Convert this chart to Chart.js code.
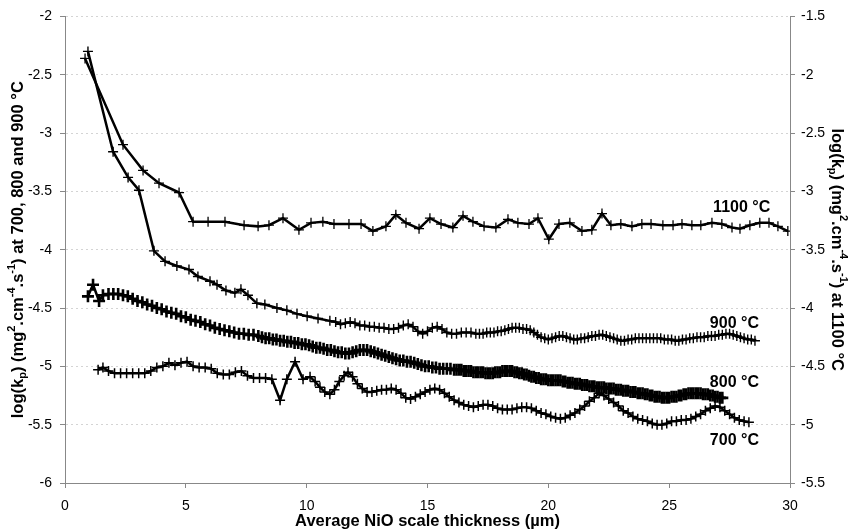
<!DOCTYPE html>
<html>
<head>
<meta charset="utf-8">
<script src="https://cdn.jsdelivr.net/npm/chart.js@4"></script>
<style>
  html, body { margin: 0; padding: 0; background: #fff; }
  canvas { display: block; }
</style>
</head>
<body>
<canvas id="kpChart" width="849" height="532"></canvas>
<script>
// log(kp) values, [thickness µm, log(kp)]
// 1100 °C is plotted on the right axis, the others on the left one
const pts1100 = [
  [0.83, -1.86], [2.40, -2.60], [3.23, -2.82], [3.89, -2.93], [4.72, -3.01], [5.30, -3.26],
  [5.92, -3.26], [6.62, -3.26], [7.41, -3.29], [7.99, -3.30], [8.44, -3.29], [9.02, -3.23],
  [9.68, -3.33], [10.18, -3.27], [10.67, -3.26], [11.13, -3.28], [11.75, -3.28], [12.25, -3.28],
  [12.74, -3.34], [13.28, -3.30], [13.69, -3.20], [14.11, -3.27], [14.65, -3.32], [15.10, -3.23],
  [15.56, -3.28], [16.05, -3.31], [16.47, -3.21], [16.88, -3.26], [17.34, -3.30], [17.83, -3.31],
  [18.33, -3.24], [18.74, -3.27], [19.20, -3.28], [19.57, -3.23], [20.02, -3.41], [20.44, -3.28],
  [20.89, -3.27], [21.39, -3.34], [21.80, -3.33], [22.22, -3.19], [22.59, -3.29], [23.00, -3.28],
  [23.46, -3.30], [23.87, -3.28], [24.25, -3.28], [24.74, -3.29], [25.16, -3.29], [25.53, -3.28],
  [25.94, -3.29], [26.31, -3.29], [26.77, -3.27], [27.18, -3.28], [27.60, -3.31], [27.93, -3.32],
  [28.34, -3.29], [28.75, -3.27], [29.13, -3.27], [29.50, -3.30], [29.91, -3.34]
];

const pts900 = [
  [0.95, -2.30], [1.99, -3.16], [2.61, -3.38], [3.06, -3.49], [3.68, -4.01], [4.14, -4.10],
  [4.63, -4.14], [5.13, -4.17], [5.50, -4.23], [6.00, -4.27], [6.29, -4.30], [6.66, -4.35],
  [7.03, -4.37], [7.28, -4.34], [7.57, -4.39], [7.94, -4.46], [8.27, -4.47], [8.77, -4.50],
  [9.18, -4.52], [9.60, -4.55], [10.02, -4.57], [10.47, -4.59], [10.96, -4.61],
  [11.2, -4.62], [11.4, -4.64], [11.6, -4.63], [11.8, -4.62], [12.0, -4.63], [12.2, -4.65],
  [12.4, -4.65], [12.6, -4.66], [12.8, -4.66], [13.0, -4.67], [13.2, -4.67], [13.4, -4.68],
  [13.6, -4.68], [13.8, -4.67], [14.0, -4.65], [14.2, -4.64], [14.4, -4.66], [14.6, -4.70],
  [14.8, -4.72], [15.0, -4.70], [15.2, -4.67], [15.4, -4.66], [15.6, -4.68], [15.8, -4.71],
  [16.0, -4.72], [16.2, -4.72], [16.4, -4.71], [16.6, -4.71], [16.8, -4.71], [17.0, -4.72],
  [17.15, -4.72], [17.3, -4.72], [17.45, -4.71], [17.6, -4.71], [17.75, -4.71], [17.9, -4.70],
  [18.05, -4.70], [18.2, -4.69], [18.35, -4.68], [18.5, -4.67], [18.65, -4.67], [18.8, -4.67],
  [18.95, -4.68], [19.1, -4.68], [19.25, -4.69], [19.4, -4.71], [19.55, -4.73], [19.7, -4.75],
  [19.85, -4.76], [20.0, -4.77], [20.15, -4.76], [20.3, -4.75], [20.45, -4.74], [20.6, -4.74],
  [20.75, -4.75], [20.9, -4.76], [21.05, -4.77], [21.2, -4.77], [21.35, -4.76], [21.5, -4.76],
  [21.65, -4.75], [21.8, -4.74], [21.95, -4.74], [22.1, -4.73], [22.25, -4.73], [22.4, -4.74],
  [22.55, -4.75], [22.7, -4.76], [22.85, -4.77], [23.0, -4.78], [23.15, -4.78], [23.3, -4.77],
  [23.45, -4.77], [23.6, -4.76], [23.75, -4.76], [23.9, -4.76], [24.05, -4.76], [24.2, -4.76],
  [24.35, -4.76], [24.5, -4.76], [24.65, -4.76], [24.8, -4.77], [24.95, -4.77], [25.1, -4.77],
  [25.25, -4.78], [25.4, -4.78], [25.55, -4.77], [25.7, -4.77], [25.85, -4.76], [26.0, -4.76],
  [26.15, -4.75], [26.3, -4.75], [26.45, -4.75], [26.6, -4.74], [26.75, -4.74], [26.9, -4.74],
  [27.05, -4.73], [27.2, -4.73], [27.35, -4.72], [27.5, -4.72], [27.65, -4.73], [27.8, -4.74],
  [27.95, -4.75], [28.1, -4.76], [28.25, -4.77], [28.4, -4.77], [28.55, -4.78]
];

const pts800 = [
  [0.95, -4.40], [1.16, -4.30], [1.41, -4.44], [1.57, -4.39],
  [1.8, -4.38], [2.0, -4.38], [2.2, -4.38], [2.4, -4.39], [2.6, -4.40], [2.8, -4.42],
  [3.0, -4.44], [3.2, -4.45], [3.4, -4.47], [3.6, -4.48], [3.8, -4.50], [4.0, -4.51],
  [4.2, -4.53], [4.4, -4.54], [4.6, -4.55], [4.8, -4.57], [5.0, -4.58], [5.2, -4.60],
  [5.4, -4.61], [5.6, -4.62], [5.8, -4.64], [6.0, -4.65], [6.2, -4.67], [6.4, -4.68],
  [6.6, -4.69], [6.8, -4.70], [7.0, -4.71], [7.2, -4.72], [7.4, -4.72], [7.6, -4.73],
  [7.8, -4.73], [8.0, -4.74],
  [8.15, -4.75], [8.3, -4.76], [8.45, -4.76], [8.6, -4.77], [8.75, -4.77], [8.9, -4.78],
  [9.05, -4.78], [9.2, -4.79], [9.35, -4.79], [9.5, -4.80], [9.65, -4.80], [9.8, -4.81],
  [9.95, -4.81], [10.1, -4.82], [10.25, -4.83], [10.4, -4.84], [10.55, -4.84], [10.7, -4.85],
  [10.85, -4.86], [11.0, -4.86], [11.15, -4.87], [11.3, -4.88], [11.45, -4.88], [11.6, -4.89],
  [11.75, -4.89], [11.9, -4.88], [12.05, -4.87], [12.2, -4.86], [12.35, -4.86], [12.5, -4.86],
  [12.65, -4.87], [12.8, -4.88], [12.95, -4.89], [13.1, -4.90], [13.25, -4.91], [13.4, -4.92],
  [13.55, -4.93], [13.7, -4.94], [13.85, -4.95], [14.0, -4.95], [14.15, -4.96], [14.3, -4.96],
  [14.45, -4.97], [14.6, -4.98], [14.75, -4.99], [14.9, -5.00], [15.05, -5.00], [15.2, -5.01],
  [15.35, -5.01], [15.5, -5.02], [15.65, -5.02], [15.8, -5.02], [15.95, -5.02], [16.1, -5.03],
  [16.2, -5.03], [16.3, -5.03], [16.4, -5.03], [16.5, -5.04], [16.6, -5.04], [16.7, -5.04],
  [16.8, -5.04], [16.9, -5.05], [17.0, -5.05], [17.1, -5.05], [17.2, -5.05], [17.3, -5.05],
  [17.4, -5.06], [17.5, -5.06], [17.6, -5.06], [17.7, -5.06], [17.8, -5.05], [17.9, -5.05],
  [18.0, -5.05], [18.1, -5.04], [18.2, -5.04], [18.3, -5.04], [18.4, -5.04], [18.5, -5.04],
  [18.6, -5.05], [18.7, -5.05], [18.8, -5.06], [18.9, -5.06], [19.0, -5.07], [19.1, -5.07],
  [19.2, -5.08], [19.3, -5.09], [19.4, -5.09], [19.5, -5.10], [19.6, -5.10], [19.7, -5.11],
  [19.8, -5.11], [19.9, -5.11], [20.0, -5.12], [20.1, -5.12], [20.2, -5.12], [20.3, -5.12],
  [20.4, -5.12], [20.5, -5.12], [20.6, -5.13], [20.7, -5.13], [20.8, -5.14], [20.9, -5.14],
  [21.0, -5.14], [21.1, -5.15], [21.2, -5.15], [21.3, -5.15], [21.4, -5.16], [21.5, -5.16],
  [21.6, -5.16], [21.7, -5.17], [21.8, -5.17], [21.9, -5.17], [22.0, -5.18], [22.1, -5.18],
  [22.2, -5.18], [22.3, -5.18], [22.4, -5.19], [22.5, -5.19], [22.6, -5.19], [22.7, -5.19],
  [22.8, -5.20], [22.9, -5.20], [23.0, -5.20], [23.1, -5.21], [23.2, -5.21], [23.3, -5.21],
  [23.4, -5.22], [23.5, -5.22], [23.6, -5.22], [23.7, -5.23], [23.8, -5.23], [23.9, -5.23],
  [24.0, -5.24], [24.1, -5.24], [24.2, -5.25], [24.3, -5.25], [24.4, -5.26], [24.5, -5.26],
  [24.6, -5.26], [24.7, -5.27], [24.8, -5.27], [24.9, -5.27], [25.0, -5.27], [25.1, -5.26],
  [25.2, -5.26], [25.3, -5.26], [25.4, -5.25], [25.5, -5.25], [25.6, -5.24], [25.7, -5.24],
  [25.8, -5.23], [25.9, -5.23], [26.0, -5.23], [26.1, -5.23], [26.2, -5.23], [26.3, -5.23],
  [26.4, -5.24], [26.5, -5.24], [26.6, -5.24], [26.7, -5.25], [26.8, -5.25], [26.9, -5.26],
  [27.0, -5.26], [27.1, -5.27], [27.2, -5.27]
];

const pts700 = [
  [1.37, -5.03], [1.57, -5.01], [1.8, -5.04], [2.05, -5.06], [2.3, -5.06], [2.55, -5.06],
  [2.8, -5.06], [3.05, -5.06], [3.3, -5.06], [3.55, -5.04], [3.8, -5.01], [4.05, -5.00],
  [4.3, -4.97], [4.55, -4.99], [4.8, -4.97], [5.05, -4.96], [5.3, -5.00], [5.55, -5.01],
  [5.8, -5.01], [6.05, -5.02], [6.3, -5.06], [6.55, -5.07], [6.8, -5.07], [7.05, -5.05],
  [7.3, -5.04], [7.55, -5.08], [7.8, -5.10], [8.05, -5.10], [8.3, -5.10], [8.56, -5.11],
  [8.90, -5.29], [9.18, -5.11], [9.52, -4.96], [9.85, -5.11], [10.14, -5.09], [10.35, -5.13],
  [10.55, -5.18], [10.75, -5.22], [10.96, -5.24], [11.15, -5.20], [11.35, -5.13], [11.55, -5.08],
  [11.71, -5.05], [11.9, -5.09], [12.1, -5.15], [12.3, -5.19], [12.5, -5.22], [12.7, -5.22],
  [12.9, -5.21], [13.1, -5.20], [13.3, -5.20], [13.5, -5.19], [13.7, -5.20], [13.9, -5.23],
  [14.1, -5.27], [14.3, -5.28], [14.5, -5.26], [14.7, -5.24], [14.9, -5.22], [15.1, -5.20],
  [15.3, -5.19], [15.5, -5.20], [15.7, -5.23], [15.9, -5.26], [16.1, -5.29], [16.3, -5.31],
  [16.5, -5.33], [16.7, -5.34], [16.9, -5.35], [17.1, -5.34], [17.3, -5.33], [17.5, -5.33],
  [17.7, -5.34], [17.9, -5.36], [18.1, -5.37], [18.3, -5.37], [18.5, -5.37], [18.7, -5.36],
  [18.9, -5.35], [19.1, -5.35], [19.3, -5.36], [19.5, -5.38], [19.7, -5.40], [19.9, -5.41],
  [20.1, -5.43], [20.3, -5.44], [20.5, -5.45], [20.7, -5.44], [20.9, -5.42], [21.1, -5.40],
  [21.3, -5.37], [21.5, -5.34], [21.7, -5.30], [21.9, -5.27], [22.1, -5.23], [22.3, -5.25],
  [22.5, -5.28], [22.7, -5.31], [22.9, -5.34], [23.1, -5.38], [23.3, -5.40], [23.5, -5.43],
  [23.7, -5.45], [23.9, -5.46], [24.1, -5.47], [24.3, -5.49], [24.5, -5.50], [24.7, -5.50],
  [24.9, -5.49], [25.1, -5.47], [25.3, -5.47], [25.5, -5.46], [25.7, -5.46], [25.9, -5.45],
  [26.1, -5.43], [26.3, -5.41], [26.5, -5.38], [26.7, -5.36], [26.9, -5.34], [27.1, -5.35],
  [27.3, -5.38], [27.5, -5.41], [27.7, -5.44], [27.9, -5.46], [28.1, -5.47], [28.3, -5.48]
];

const seriesNames = ['1100 °C', '900 °C', '800 °C', '700 °C'];

// where the curve names sit, in data units
const curveLabels = [
  { text: seriesNames[0], x: 28.0, y: -3.14, axis: 'y1' },
  { text: seriesNames[1], x: 27.7, y: -4.63, axis: 'y' },
  { text: seriesNames[2], x: 27.7, y: -5.14, axis: 'y' },
  { text: seriesNames[3], x: 27.7, y: -5.64, axis: 'y' }
];

const FONT = "'Liberation Sans', Arial, Helvetica, sans-serif";

// axis titles with sub/superscripts: [text, 0 normal | 1 sup | -1 sub]
const leftTitle = [['log(k', 0], ['p', -1], [') (mg', 0], ['2', 1], ['.cm', 0], ['-4', 1],
  ['.s', 0], ['-1', 1], [') at 700, 800 and 900 °C', 0]];
const rightTitle = [['log(k', 0], ['p', -1], [') (mg', 0], ['2', 1], ['.cm', 0], ['-4', 1],
  ['.s', 0], ['-1', 1], [') at 1100 °C', 0]];
const bottomTitle = 'Average NiO scale thickness (µm)';

function toXY(pts) {
  return pts.map(p => ({ x: p[0], y: p[1] }));
}

function drawRich(ctx, parts, x, y, rot) {
  const big = 'bold 16.5px ' + FONT;
  const small = 'bold 11px ' + FONT;
  ctx.save();
  ctx.translate(x, y);
  ctx.rotate(rot);
  let w = 0;
  parts.forEach(([t, s]) => {
    ctx.font = s ? small : big;
    w += ctx.measureText(t).width;
  });
  let cx = -w / 2;
  ctx.fillStyle = '#000';
  ctx.textAlign = 'left';
  ctx.textBaseline = 'middle';
  parts.forEach(([t, s]) => {
    ctx.font = s ? small : big;
    ctx.fillText(t, cx, s > 0 ? -6 : (s < 0 ? 5 : 0));
    cx += ctx.measureText(t).width;
  });
  ctx.restore();
}

const textPlugin = {
  id: 'textPlugin',
  afterDraw(chart) {
    const ctx = chart.ctx;
    const a = chart.chartArea;
    const midY = (a.top + a.bottom) / 2;
    drawRich(ctx, leftTitle, 18, midY, -Math.PI / 2);
    drawRich(ctx, rightTitle, 837, midY, Math.PI / 2);

    ctx.save();
    ctx.fillStyle = '#000';
    ctx.textAlign = 'center';
    ctx.textBaseline = 'middle';
    ctx.font = 'bold 16.5px ' + FONT;
    ctx.fillText(bottomTitle, (a.left + a.right) / 2, 521);

    ctx.font = 'bold 16px ' + FONT;
    curveLabels.forEach(l => {
      const px = chart.scales.x.getPixelForValue(l.x);
      const py = chart.scales[l.axis].getPixelForValue(l.y);
      ctx.fillText(l.text, px, py);
    });
    ctx.restore();
  }
};

function lineSet(name, pts, axis, radius, crossWidth) {
  return {
    label: name,
    data: toXY(pts),
    yAxisID: axis,
    showLine: true,
    borderColor: '#000',
    borderWidth: 2.5,
    pointStyle: 'cross',
    pointRadius: radius,
    pointBorderColor: '#000',
    pointBorderWidth: crossWidth,
    tension: 0
  };
}

const tickFont = { family: FONT, size: 14 };
const plainNumber = v => String(Math.round(v * 10) / 10);

const kpChart = new Chart(document.getElementById('kpChart'), {
  type: 'scatter',
  data: {
    datasets: [
      lineSet(seriesNames[0], pts1100, 'y1', 5, 1.3),
      lineSet(seriesNames[1], pts900, 'y', 5, 1.4),
      lineSet(seriesNames[2], pts800, 'y', 6, 2.6),
      lineSet(seriesNames[3], pts700, 'y', 5, 1.5)
    ]
  },
  options: {
    responsive: false,
    animation: false,
    layout: { padding: { top: 11, left: 0, right: 0, bottom: 0 } },
    plugins: {
      legend: { display: false },
      tooltip: { enabled: false }
    },
    scales: {
      x: {
        type: 'linear',
        min: 0,
        max: 30,
        ticks: { stepSize: 5, color: '#000', font: tickFont, padding: 10, maxRotation: 0, callback: plainNumber },
        grid: { drawOnChartArea: false, tickLength: 5, tickColor: '#888' },
        border: { color: '#888', width: 1 },
        afterFit: s => { s.height = 49; }
      },
      y: {
        position: 'left',
        min: -6,
        max: -2,
        ticks: { stepSize: 0.5, color: '#000', font: tickFont, padding: 8, callback: plainNumber },
        grid: { color: '#d4d4d4', lineWidth: 1, tickLength: 5, tickColor: '#888' },
        border: { color: '#888', width: 1, dash: [2, 3] },
        afterFit: s => { s.width = 65; }
      },
      y1: {
        position: 'right',
        min: -5.5,
        max: -1.5,
        ticks: { stepSize: 0.5, color: '#000', font: tickFont, padding: 6, callback: plainNumber },
        grid: { drawOnChartArea: false, tickLength: 5, tickColor: '#888' },
        border: { color: '#888', width: 1 },
        afterFit: s => { s.width = 59; }
      }
    }
  },
  plugins: [textPlugin]
});
</script>
</body>
</html>
